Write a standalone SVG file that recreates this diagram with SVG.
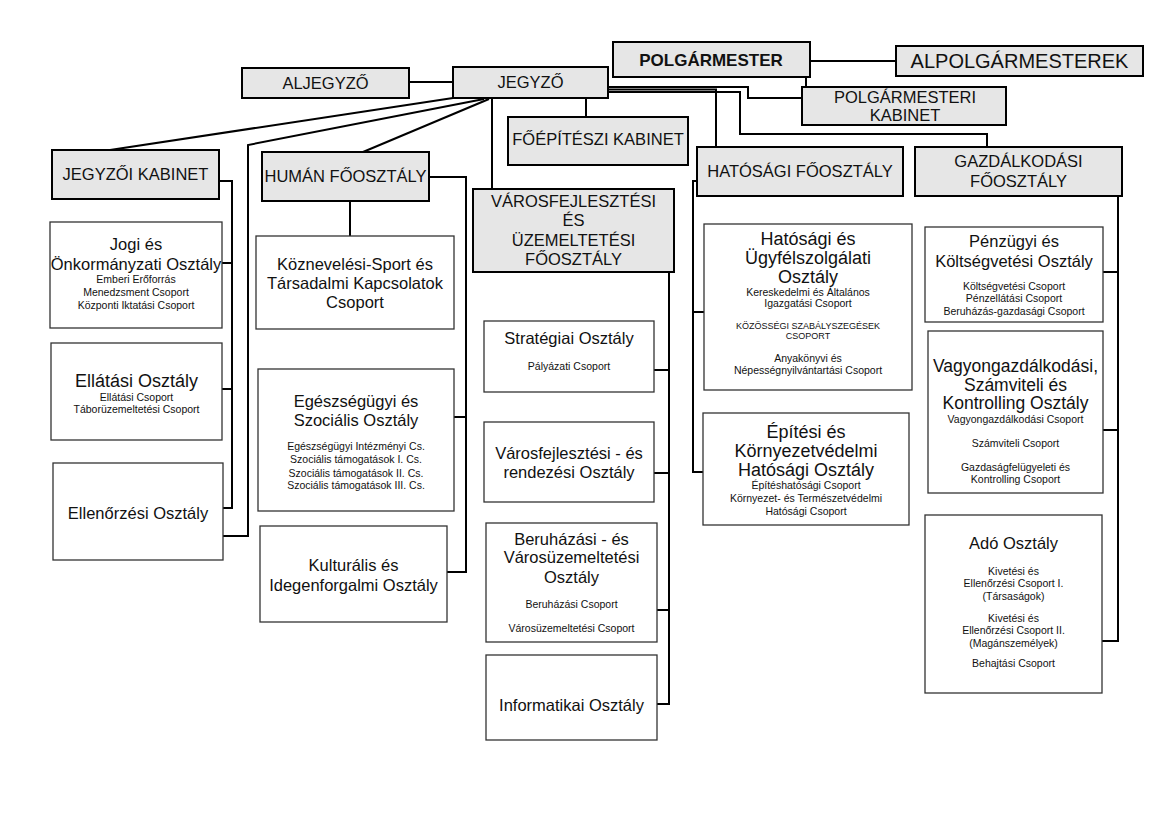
<svg xmlns="http://www.w3.org/2000/svg" width="1169" height="826" viewBox="0 0 1169 826">
<style>
.g{fill:#e6e6e6;stroke:#000;stroke-width:2}
.w{fill:#fff;stroke:#333;stroke-width:1.3}
.c{fill:none;stroke:#000;stroke-width:2}
text{font-family:"Liberation Sans",Arial,sans-serif;fill:#111;text-anchor:middle}
.h{font-size:16.5px}
.t{font-size:16.5px}
.s{font-size:10.5px}
</style>
<rect width="1169" height="826" fill="#fff"/>
<g id="connectors">
<line class="c" x1="409" y1="82" x2="453" y2="82"/>
<line class="c" x1="810" y1="61" x2="896" y2="61"/>
<line class="c" x1="806" y1="77" x2="806" y2="87"/>
<polyline class="c" points="608,87 748,87 748,98 802,98"/>
<polyline class="c" points="608,89.5 716,89.5 716,147"/>
<polyline class="c" points="608,92 740,92 740,134 987,134 987,147"/>
<line class="c" x1="586" y1="98" x2="586" y2="117"/>
<line class="c" x1="492" y1="98" x2="492" y2="189"/>
<line class="c" x1="453" y1="98" x2="110" y2="150"/>
<polyline class="c" points="484,99 248,145 248,536 223,536"/>
<line class="c" x1="489" y1="99" x2="363" y2="152"/>
<polyline class="c" points="219,181 232,181 232,508 223,508"/>
<line class="c" x1="222" y1="263" x2="232" y2="263"/>
<line class="c" x1="222" y1="389" x2="232" y2="389"/>
<line class="c" x1="350" y1="201" x2="350" y2="236"/>
<polyline class="c" points="429,177 466,177 466,572 447,572"/>
<line class="c" x1="454" y1="417" x2="466" y2="417"/>
<polyline class="c" points="669,272 669,704 657,704"/>
<line class="c" x1="654" y1="370" x2="669" y2="370"/>
<line class="c" x1="654" y1="473" x2="669" y2="473"/>
<line class="c" x1="657" y1="610" x2="669" y2="610"/>
<polyline class="c" points="697,181 693,181 693,472 703,472"/>
<line class="c" x1="693" y1="312" x2="704" y2="312"/>
<polyline class="c" points="1118,196 1118,641 1102,641"/>
<line class="c" x1="1103" y1="272" x2="1118" y2="272"/>
<line class="c" x1="1103" y1="430" x2="1118" y2="430"/>
</g>
<g id="aljegyzo"><rect class="g" x="242" y="68" width="167" height="30"/><text class="h" x="325.5" y="89">ALJEGYZŐ</text></g>
<g id="jegyzo"><rect class="g" x="453" y="67" width="155" height="31"/><text class="h" x="530.5" y="88">JEGYZŐ</text></g>
<g id="polgarmester"><rect class="g" x="613" y="42" width="197" height="35"/><text x="711" y="66" style="font-size:17px;font-weight:bold">POLGÁRMESTER</text></g>
<g id="alpolgarmesterek"><rect class="g" x="896" y="46" width="247" height="30"/><text x="1019.5" y="68" style="font-size:20px">ALPOLGÁRMESTEREK</text></g>
<g id="polgarmesteri-kabinet"><rect class="g" x="802" y="87" width="204" height="38"/><text class="h" x="905" y="103">POLGÁRMESTERI</text><text class="h" x="905" y="121">KABINET</text></g>
<g id="foepiteszi-kabinet"><rect class="g" x="508" y="117" width="180" height="48"/><text class="h" x="598" y="145">FŐÉPÍTÉSZI KABINET</text></g>
<g id="jegyzoi-kabinet"><rect class="g" x="52" y="150" width="167" height="49"/><text class="h" x="135.5" y="180">JEGYZŐI KABINET</text></g>
<g id="human-foosztaly"><rect class="g" x="262" y="152" width="167" height="49"/><text class="h" x="345.5" y="182">HUMÁN FŐOSZTÁLY</text></g>
<g id="varosfejlesztesi-foosztaly"><rect class="g" x="473" y="189" width="201" height="83"/><text class="h" x="573.5" y="207">VÁROSFEJLESZTÉSI</text><text class="h" x="573.5" y="226">ÉS</text><text class="h" x="573.5" y="246">ÜZEMELTETÉSI</text><text class="h" x="573.5" y="265">FŐOSZTÁLY</text></g>
<g id="hatosagi-foosztaly"><rect class="g" x="697" y="147" width="206" height="49"/><text class="h" x="800" y="177">HATÓSÁGI FŐOSZTÁLY</text></g>
<g id="gazdalkodasi-foosztaly"><rect class="g" x="915" y="147" width="207" height="49"/><text class="h" x="1018.5" y="167">GAZDÁLKODÁSI</text><text class="h" x="1018.5" y="187">FŐOSZTÁLY</text></g>
<g id="jogi"><rect class="w" x="50" y="222" width="172" height="106"/><text class="t" x="136" y="250">Jogi és</text><text class="t" x="136" y="270">Önkormányzati Osztály</text><text class="s" x="136" y="283">Emberi Erőforrás</text><text class="s" x="136" y="296">Menedzsment Csoport</text><text class="s" x="136" y="309">Központi Iktatási Csoport</text></g>
<g id="ellatasi"><rect class="w" x="51" y="343" width="171" height="97"/><text x="136.5" y="387" style="font-size:18px">Ellátási Osztály</text><text class="s" x="136.5" y="401">Ellátási Csoport</text><text class="s" x="136.5" y="413">Táborüzemeltetési Csoport</text></g>
<g id="ellenorzesi"><rect class="w" x="53" y="463" width="170" height="97"/><text class="t" x="138" y="519">Ellenőrzési Osztály</text></g>
<g id="koznevelesi"><rect class="w" x="256" y="236" width="198" height="93"/><text class="t" x="355" y="270">Köznevelési-Sport és</text><text class="t" x="355" y="289">Társadalmi Kapcsolatok</text><text class="t" x="355" y="308">Csoport</text></g>
<g id="egeszsegugyi"><rect class="w" x="258" y="369" width="196" height="142"/><text class="t" x="356" y="407">Egészségügyi és</text><text class="t" x="356" y="426">Szociális Osztály</text><text class="s" x="356" y="450">Egészségügyi Intézményi Cs.</text><text class="s" x="356" y="463">Szociális támogatások I. Cs.</text><text class="s" x="356" y="477">Szociális támogatások II. Cs.</text><text class="s" x="356" y="489">Szociális támogatások III. Cs.</text></g>
<g id="kulturalis"><rect class="w" x="260" y="526" width="187" height="96"/><text class="t" x="353.5" y="571">Kulturális és</text><text class="t" x="353.5" y="591">Idegenforgalmi Osztály</text></g>
<g id="strategiai"><rect class="w" x="484" y="321" width="170" height="71"/><text class="t" x="569" y="344">Stratégiai Osztály</text><text class="s" x="569" y="370">Pályázati Csoport</text></g>
<g id="rendezesi"><rect class="w" x="484" y="422" width="170" height="80"/><text class="t" x="569" y="459">Városfejlesztési - és</text><text class="t" x="569" y="478">rendezési Osztály</text></g>
<g id="beruhazasi"><rect class="w" x="486" y="523" width="171" height="119"/><text class="t" x="571.5" y="545">Beruházási - és</text><text class="t" x="571.5" y="563">Városüzemeltetési</text><text class="t" x="571.5" y="583">Osztály</text><text class="s" x="571.5" y="608">Beruházási Csoport</text><text class="s" x="571.5" y="632">Városüzemeltetési Csoport</text></g>
<g id="informatikai"><rect class="w" x="486" y="655" width="171" height="85"/><text class="t" x="571.5" y="711">Informatikai Osztály</text></g>
<g id="hatosagi-ugyfelszolgalati"><rect class="w" x="704" y="224" width="208" height="166"/><text x="808" y="245" style="font-size:18px">Hatósági és</text><text x="808" y="264" style="font-size:18px">Ügyfélszolgálati</text><text x="808" y="283" style="font-size:18px">Osztály</text><text class="s" x="808" y="296">Kereskedelmi és Általános</text><text class="s" x="808" y="307">Igazgatási Csoport</text><text x="808" y="329" style="font-size:9px">KÖZÖSSÉGI SZABÁLYSZEGÉSEK</text><text x="808" y="339" style="font-size:9px">CSOPORT</text><text class="s" x="808" y="362">Anyakönyvi és</text><text class="s" x="808" y="374">Népességnyilvántartási Csoport</text></g>
<g id="epitesi"><rect class="w" x="703" y="413" width="206" height="112"/><text x="806" y="438" style="font-size:18px">Építési és</text><text x="806" y="457" style="font-size:18px">Környezetvédelmi</text><text x="806" y="476" style="font-size:18px">Hatósági Osztály</text><text class="s" x="806" y="489">Építéshatósági Csoport</text><text class="s" x="806" y="502">Környezet- és Természetvédelmi</text><text class="s" x="806" y="515">Hatósági Csoport</text></g>
<g id="penzugyi"><rect class="w" x="925" y="227" width="178" height="95"/><text class="t" x="1014" y="247">Pénzügyi és</text><text class="t" x="1014" y="267">Költségvetési Osztály</text><text class="s" x="1014" y="290">Költségvetési Csoport</text><text class="s" x="1014" y="302">Pénzellátási Csoport</text><text class="s" x="1014" y="315">Beruházás-gazdasági Csoport</text></g>
<g id="vagyongazdalkodasi"><rect class="w" x="928" y="331" width="175" height="162"/><text x="1015.5" y="372" style="font-size:17.5px">Vagyongazdálkodási,</text><text x="1015.5" y="391" style="font-size:17.5px">Számviteli és</text><text x="1015.5" y="409" style="font-size:17.5px">Kontrolling Osztály</text><text class="s" x="1015.5" y="423">Vagyongazdálkodási Csoport</text><text class="s" x="1015.5" y="447">Számviteli Csoport</text><text class="s" x="1015.5" y="471">Gazdaságfelügyeleti és</text><text class="s" x="1015.5" y="483">Kontrolling Csoport</text></g>
<g id="ado"><rect class="w" x="925" y="515" width="177" height="178"/><text class="t" x="1013.5" y="549">Adó Osztály</text><text class="s" x="1013.5" y="575">Kivetési és</text><text class="s" x="1013.5" y="587">Ellenőrzési Csoport I.</text><text class="s" x="1013.5" y="600">(Társaságok)</text><text class="s" x="1013.5" y="622">Kivetési és</text><text class="s" x="1013.5" y="634">Ellenőrzési Csoport II.</text><text class="s" x="1013.5" y="647">(Magánszemélyek)</text><text class="s" x="1013.5" y="667">Behajtási Csoport</text></g>
</svg>
